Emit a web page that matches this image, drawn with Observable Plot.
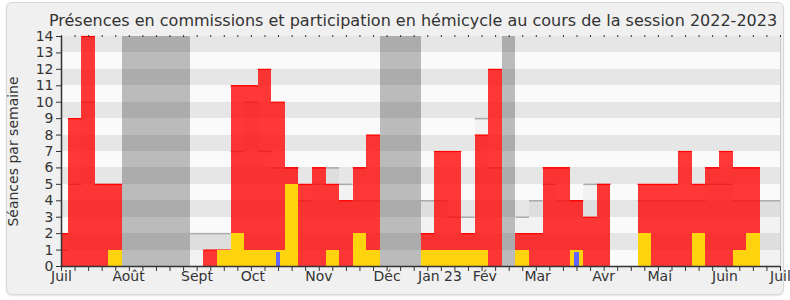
<!DOCTYPE html>
<html><head><meta charset="utf-8">
<script src="https://cdn.jsdelivr.net/npm/d3@7"></script>
<script src="https://cdn.jsdelivr.net/npm/@observablehq/plot@0.6"></script>
<style>
body{margin:0;background:#fff;font-family:"DejaVu Sans",sans-serif;}
#panel{position:absolute;left:6px;top:2px;width:776px;height:291px;background:#f0f0f0;border:1px solid #d8d8d8;border-radius:6px;box-shadow:0 1px 2px rgba(0,0,0,0.12);}
#chart{position:absolute;left:0;top:0;}
</style></head><body><div id="panel"></div><div id="chart"></div>
<script>
const title = "Présences en commissions et participation en hémicycle au cours de la session 2022-2023";
const yLabel = "Séances par semaine";
// one value per week, week 0 = early July 2022 ... week 53 = early July 2023
const presences =      [2,9,14,5,5, 0,0,0,0,0, 0,1,1,11,11,12,10,6,5,6,5,4,6,8, 0,0,0, 2,7,7,2,8,12, 0, 2,2,6,6,4,3,5,0,0,5,5,5,7,5,6,7,6,6,0,0];
const participations = [0,0,0,0,1, 0,0,0,0,0, 0,0,1,2,1,1,1,5,0,0,1,0,2,1, 0,0,0, 1,1,1,1,1,0, 0, 1,0,0,0,1,0,0,0,0,2,0,0,0,2,0,0,1,2,0,0];
const questions =      [0,0,0,0,0, 0,0,0,0,0, 0,0,0,0,0,0,0.85,0,0,0,0,0,0,0, 0,0,0, 0,0,0,0,0,0, 0, 0,0,0,0,0.85,0,0,0,0,0,0,0,0,0,0,0,0,0,0,0];
const mediane =        [1,5,10,5,5, null,null,null,null,null, 2,2,2,7,10,7,6,6,4,5,6,5,4,4, null,null,null, 4,4,3,3,9,6, null, 3,4,5,4,4,5,5,null,null,4,4,4,4,4,5,5,4,4,4,4];
const vacationWeeks = [5,6,7,8,9,24,25,26,33];
const monthLabels = ["Juil","Août","Sept","Oct","Nov","Déc","Jan 23","Fév","Mar","Avr","Mai","Juin","Juil"];
const monthPos =    [0, 4.94, 9.99, 14.1, 18.97, 24.0, 27.9, 31.2, 35.1, 39.97, 44.1, 48.9, 53];
const yTicks = d3.range(0, 15);
const weekTicks = d3.range(0, 54);

const rows = presences.map((v, i) => ({i, presence: v, participation: participations[i], question: questions[i], mediane: mediane[i]}));
const oddBands = yTicks.filter(k => k % 2 === 1 && k < 14);
const labelByPos = new Map(monthPos.map((p, k) => [p, monthLabels[k]]));
const lo = d => Math.max(0, d.i - 0.5), hi = d => Math.min(53, d.i + 0.5);

const chart = Plot.plot({
  width: 790, height: 300,
  marginLeft: 61, marginRight: 10, marginTop: 36, marginBottom: 34,
  style: {background: "transparent", fontFamily: "DejaVu Sans", color: "#333"},
  x: {domain: [0, 53], axis: null},
  y: {domain: [0, 14], axis: null},
  marks: [
    Plot.frame({fill: "#fafafa", stroke: null}),
    Plot.rect(oddBands, {x1: 0, x2: 53, y1: d => d, y2: d => d + 1, fill: "#e6e6e6", shapeRendering: "crispEdges"}),
    Plot.rect(vacationWeeks, {x1: d => d - 0.5, x2: d => d + 0.5, y1: 0, y2: 14, fill: "black", fillOpacity: 0.25, shapeRendering: "crispEdges"}),
    Plot.rect(rows.filter(d => d.mediane != null), {x1: lo, x2: hi, y1: 0, y2: "mediane", fill: "black", fillOpacity: 0.03, shapeRendering: "crispEdges"}),
    Plot.ruleY(rows.filter(d => d.mediane != null), {y: "mediane", x1: lo, x2: hi, stroke: "#aaa", strokeWidth: 1.5}),
    Plot.rect(rows.filter(d => d.presence > 0), {x1: lo, x2: hi, y1: 0, y2: "presence", fill: "#ff0000", fillOpacity: 0.78, shapeRendering: "crispEdges"}),
    Plot.ruleY(rows.filter(d => d.presence > 0), {y: "presence", x1: lo, x2: hi, stroke: "#ff0000", strokeWidth: 1.2}),
    Plot.rect(rows.filter(d => d.participation > 0), {x1: lo, x2: hi, y1: 0, y2: "participation", fill: "#ffd30d", shapeRendering: "crispEdges"}),
    Plot.rect(rows.filter(d => d.question > 0), {x1: d => d.i - 0.17, x2: d => d.i + 0.17, y1: 0, y2: "question", fill: "#6464ff", shapeRendering: "crispEdges"}),
    Plot.ruleX([53], {stroke: "#ccc"}),
    Plot.axisX({anchor: "top", ticks: weekTicks, tickSize: 2, tickFormat: () => "", stroke: "#333"}),
    Plot.axisX({anchor: "bottom", ticks: weekTicks, tickSize: 5, tickFormat: () => "", stroke: "#333"}),
    Plot.axisX({anchor: "bottom", ticks: monthPos, tickSize: 0, tickPadding: 5, tickFormat: d => labelByPos.get(d), fontSize: 14, fill: "#333", label: null}),
    Plot.axisY({ticks: yTicks, tickSize: 5, tickPadding: 3, fontSize: 14, fill: "#333", stroke: "#333", label: null}),
    Plot.text([yLabel], {frameAnchor: "left", dx: -48, rotate: -90, textAnchor: "middle", fontSize: 14, fill: "#333"}),
    Plot.ruleX([0], {stroke: "#333", strokeWidth: 1.5}),
    Plot.ruleY([0], {stroke: "#333", strokeWidth: 1.5}),
    Plot.text([title], {frameAnchor: "top", dx: -8, dy: -16, fontSize: 16, fill: "#333", lineAnchor: "middle"})
  ]
});
document.getElementById("chart").append(chart);
</script></body></html>
